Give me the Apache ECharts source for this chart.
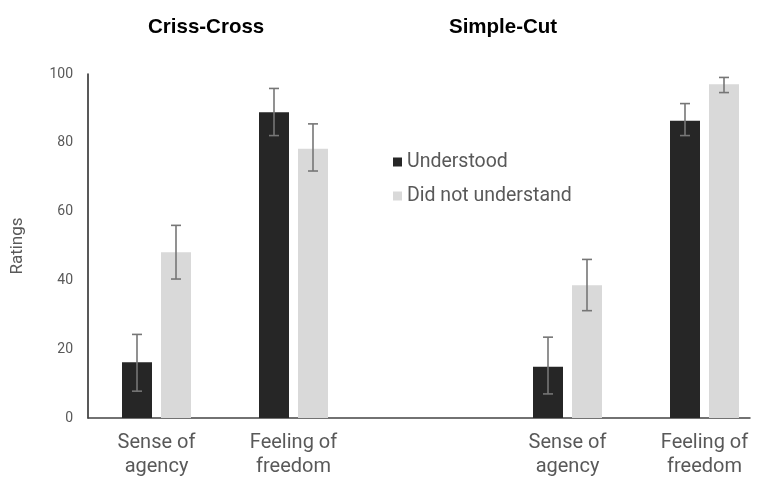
<!DOCTYPE html>
<html>
<head>
<meta charset="utf-8">
<script src="https://cdn.jsdelivr.net/npm/echarts@6/dist/echarts.min.js"></script>
<style>
  html, body { margin: 0; padding: 0; background: #fff; }
  #main { width: 764px; height: 477px; }
</style>
</head>
<body>
<div id="main"></div>
<script>
// categories: left panel (Criss-Cross), empty spacer, right panel (Simple-Cut)
var categories = ['Sense of\nagency', 'Feeling of\nfreedom', '', 'Sense of\nagency', 'Feeling of\nfreedom']
var understood = [16.2, 88.9, null, 14.9, 86.4]
var notUnderstood = [48.2, 78.3, null, 38.6, 97.0]
// error bars [low, high]
var understoodErr = [[7.8, 24.3], [82.1, 95.8], null, [7.0, 23.5], [82.1, 91.4]]
var notUnderstoodErr = [[40.4, 56.0], [71.8, 85.5], null, [31.2, 46.1], [94.6, 99.0]]
var yTicks = [0, 20, 40, 60, 80, 100]
var panelTitles = ['Criss-Cross', 'Simple-Cut']

var textFont = 'Roboto'
var grey = '#595959'
var titleStyle = { fontFamily: 'Liberation Sans', fontWeight: 'bold', fontSize: 20.5, color: '#000' }

function errData(arr) {
  var out = []
  for (let i = 0; i < arr.length; i++) {
    if (arr[i]) out.push([i, arr[i][0], arr[i][1]])
  }
  return out
}

// draws a whisker with caps, shifted left/right of the category centre
function errRender(shift) {
  return function (params, api) {
    var top = api.coord([api.value(0), api.value(2)])
    var bot = api.coord([api.value(0), api.value(1)])
    var x = top[0] + shift
    var cap = 5
    var st = { stroke: '#767676', lineWidth: 1.6 }
    return {
      type: 'group',
      children: [
        { type: 'line', shape: { x1: x, y1: top[1], x2: x, y2: bot[1] }, style: st },
        { type: 'line', shape: { x1: x - cap, y1: top[1], x2: x + cap, y2: top[1] }, style: st },
        { type: 'line', shape: { x1: x - cap, y1: bot[1], x2: x + cap, y2: bot[1] }, style: st }
      ]
    }
  }
}

var chart = echarts.init(document.getElementById('main'))
chart.setOption({
  animation: false,
  title: [
    { text: panelTitles[0], left: 148, top: 17, padding: 0, textStyle: titleStyle },
    { text: panelTitles[1], left: 449, top: 17, padding: 0, textStyle: titleStyle }
  ],
  legend: {
    orient: 'vertical',
    left: 388,
    top: 147,
    itemWidth: 9,
    itemHeight: 9,
    itemGap: 14,
    icon: 'rect',
    data: ['Understood', 'Did not understand'],
    textStyle: { fontFamily: textFont, fontSize: 19.5, color: grey }
  },
  grid: [
    // the right panel runs a little past the window edge, as in the source
    { left: 88, top: 74, bottom: 59, width: 685, outerBoundsMode: 'none' },
    // only used for the baseline, which stops short of the right edge
    { left: 88, top: 74, bottom: 59, right: 14, outerBoundsMode: 'none' }
  ],
  xAxis: [
    {
      type: 'category',
      gridIndex: 0,
      data: categories,
      axisLine: { show: false },
      axisTick: { show: false },
      axisLabel: { fontFamily: textFont, fontSize: 20, color: grey, lineHeight: 24, margin: 13 }
    },
    {
      type: 'category',
      gridIndex: 1,
      data: [''],
      axisLine: { show: true, lineStyle: { color: '#444', width: 1.5 } },
      axisTick: { show: false },
      axisLabel: { show: false }
    }
  ],
  yAxis: [
    {
      type: 'value',
      gridIndex: 0,
      min: 0,
      max: 100,
      interval: 20,
      name: 'Ratings',
      nameLocation: 'middle',
      nameGap: 62,
      nameTextStyle: { fontFamily: textFont, fontSize: 17, color: grey },
      axisLine: { show: true, lineStyle: { color: '#222', width: 1.5 } },
      axisTick: { show: false },
      splitLine: { show: false },
      axisLabel: {
        fontFamily: textFont, fontSize: 14, color: grey, margin: 15,
        formatter: function (v) { return yTicks.indexOf(v) >= 0 ? v : '' }
      }
    },
    {
      type: 'value',
      gridIndex: 1,
      min: 0,
      max: 100,
      show: false
    }
  ],
  series: [
    {
      name: 'Understood',
      type: 'bar',
      data: understood,
      barWidth: 30,
      barGap: '30%',
      itemStyle: { color: '#262626' }
    },
    {
      name: 'Did not understand',
      type: 'bar',
      data: notUnderstood,
      barWidth: 30,
      barGap: '30%',
      itemStyle: { color: '#d9d9d9' }
    },
    {
      type: 'custom',
      data: errData(understoodErr),
      renderItem: errRender(-19.5),
      z: 10
    },
    {
      type: 'custom',
      data: errData(notUnderstoodErr),
      renderItem: errRender(19.5),
      z: 10
    }
  ]
})
</script>
</body>
</html>
